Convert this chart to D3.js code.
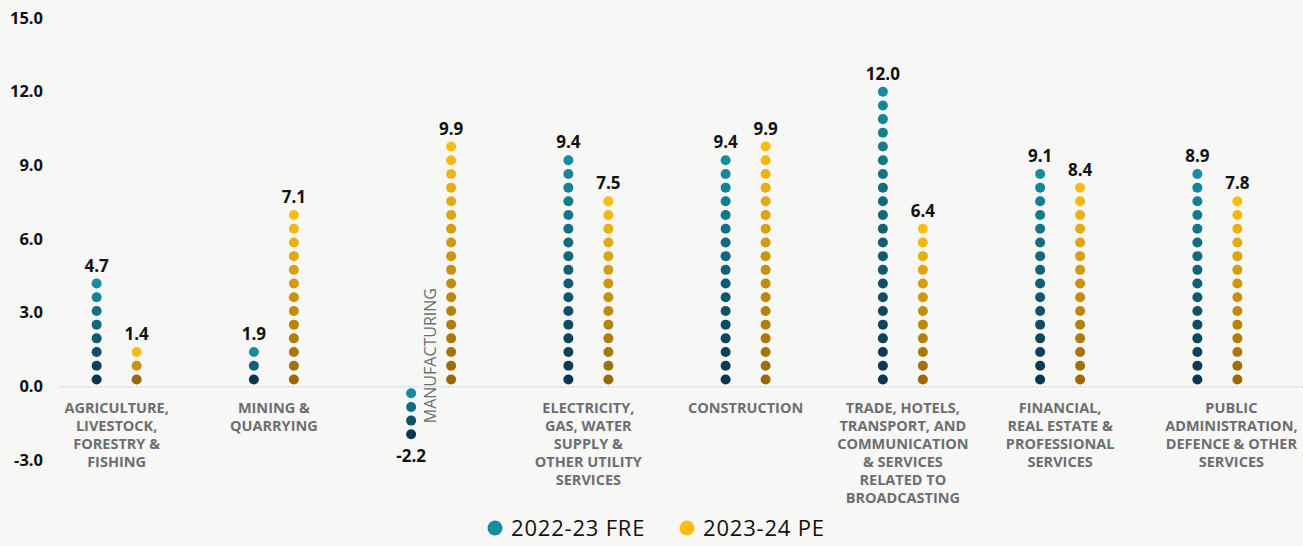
<!DOCTYPE html>
<html>
<head>
<meta charset="utf-8">
<script src="https://cdn.jsdelivr.net/npm/d3@7"></script>
<style>
  body { margin: 0; background: #f7f7f6; }
  svg { display: block; }
  text { font-family: "Open Sans", sans-serif; }
</style>
</head>
<body>
<svg width="1303" height="546"></svg>
<script>
// sectors and GVA growth (%)
const categories = [
    ["AGRICULTURE,", "LIVESTOCK,", "FORESTRY &", "FISHING"],
    ["MINING &", "QUARRYING"],
    ["MANUFACTURING"],
    ["ELECTRICITY,", "GAS, WATER", "SUPPLY &", "OTHER UTILITY", "SERVICES"],
    ["CONSTRUCTION"],
    ["TRADE, HOTELS,", "TRANSPORT, AND", "COMMUNICATION", "& SERVICES", "RELATED TO", "BROADCASTING"],
    ["FINANCIAL,", "REAL ESTATE &", "PROFESSIONAL", "SERVICES"],
    ["PUBLIC", "ADMINISTRATION,", "DEFENCE & OTHER", "SERVICES"]
];
const fre2223 = [4.7, 1.9, -2.2, 9.4, 9.4, 12.0, 9.1, 8.9];
const pe2324 = [1.4, 7.1, 9.9, 7.5, 9.9, 6.4, 8.4, 7.8];
const yTicks = [15, 12, 9, 6, 3, 0, -3];
const seriesNames = ["2022-23 FRE", "2023-24 PE"];

const svg = d3.select("svg");
const width = +svg.attr("width");

const x = d3.scaleBand()
    .domain(d3.range(categories.length))
    .range([38, 1296]);

const y = d3.scaleLinear()
    .domain([-3, 15])
    .range([460, 18]);

const palettes = [
    d3.interpolateRgb("#0b3550", "#178b9f"),
    d3.interpolateRgb("#9a6906", "#f9bd12")
];

// y axis labels
svg.append("g")
    .selectAll("text")
    .data(yTicks)
    .join("text")
    .attr("x", 43)
    .attr("y", d => y(d))
    .attr("dy", "0.35em")
    .attr("text-anchor", "end")
    .attr("font-size", 16.5)
    .attr("font-weight", 700)
    .attr("fill", "#111")
    .text(d => d.toFixed(1));

// dotted zero line
svg.append("line")
    .attr("x1", 60)
    .attr("x2", width)
    .attr("y1", y(0) + 0.5)
    .attr("y2", y(0) + 0.5)
    .attr("stroke", "#9fd3e6")
    .attr("stroke-width", 1)
    .attr("stroke-dasharray", "1,1");

const step = 0.558;   // value gap between dots
const start = 0.28;   // first dot offset from zero
const offsets = [-20, 20];

[fre2223, pe2324].forEach((series, s) => {
    series.forEach((v, i) => {
        const cx = x(i) + x.bandwidth() / 2 + offsets[s];
        const n = Math.max(1, Math.round(Math.abs(v) * 1.8));
        const sign = v < 0 ? -1 : 1;
        const dots = d3.range(n).map(k => sign * (start + k * step));
        const topV = d3.max(dots), botV = d3.min(dots);

        svg.append("g")
            .selectAll("circle")
            .data(dots)
            .join("circle")
            .attr("cx", cx)
            .attr("cy", d => y(d))
            .attr("r", 5)
            .attr("fill", d => palettes[s](n === 1 ? 1 : (d - botV) / (topV - botV)));

        svg.append("text")
            .attr("x", cx)
            .attr("y", v < 0 ? y(botV) + 28 : y(topV) - 12)
            .attr("text-anchor", "middle")
            .attr("font-size", 17)
            .attr("font-weight", 700)
            .attr("fill", "#111")
            .text(v.toFixed(1));
    });
});

// category labels
categories.forEach((lines, i) => {
    let cx = x(i) + x.bandwidth() / 2;
    if (i === categories.length - 1) cx += 14; // last label sits a bit to the right
    if (lines[0] === "MANUFACTURING") {
        svg.append("text")
            .attr("transform", `translate(${cx + 5},${y(1.25)}) rotate(-90)`)
            .attr("text-anchor", "middle")
            .attr("font-size", 16)
            .attr("font-weight", 500)
            .attr("fill", "#6d6e71")
            .text(lines[0]);
        return;
    }
    svg.append("text")
        .attr("text-anchor", "middle")
        .attr("font-size", 14.5)
        .attr("font-weight", 700)
        .attr("fill", "#6d6e71")
        .selectAll("tspan")
        .data(lines)
        .join("tspan")
        .attr("x", cx)
        .attr("y", (d, k) => 413 + k * 18)
        .text(d => d);
});

// legend
const legend = svg.append("g")
    .selectAll("g")
    .data(seriesNames)
    .join("g")
    .attr("transform", (d, k) => `translate(${495 + k * 192},528)`);

legend.append("circle")
    .attr("r", 7.5)
    .attr("fill", (d, k) => palettes[k](1));

legend.append("text")
    .attr("x", 16)
    .attr("dy", "0.35em")
    .attr("font-family", "Noto Sans, sans-serif")
    .attr("font-size", 22)
    .attr("letter-spacing", 0.8)
    .attr("fill", "#111")
    .text(d => d);
</script>
</body>
</html>
